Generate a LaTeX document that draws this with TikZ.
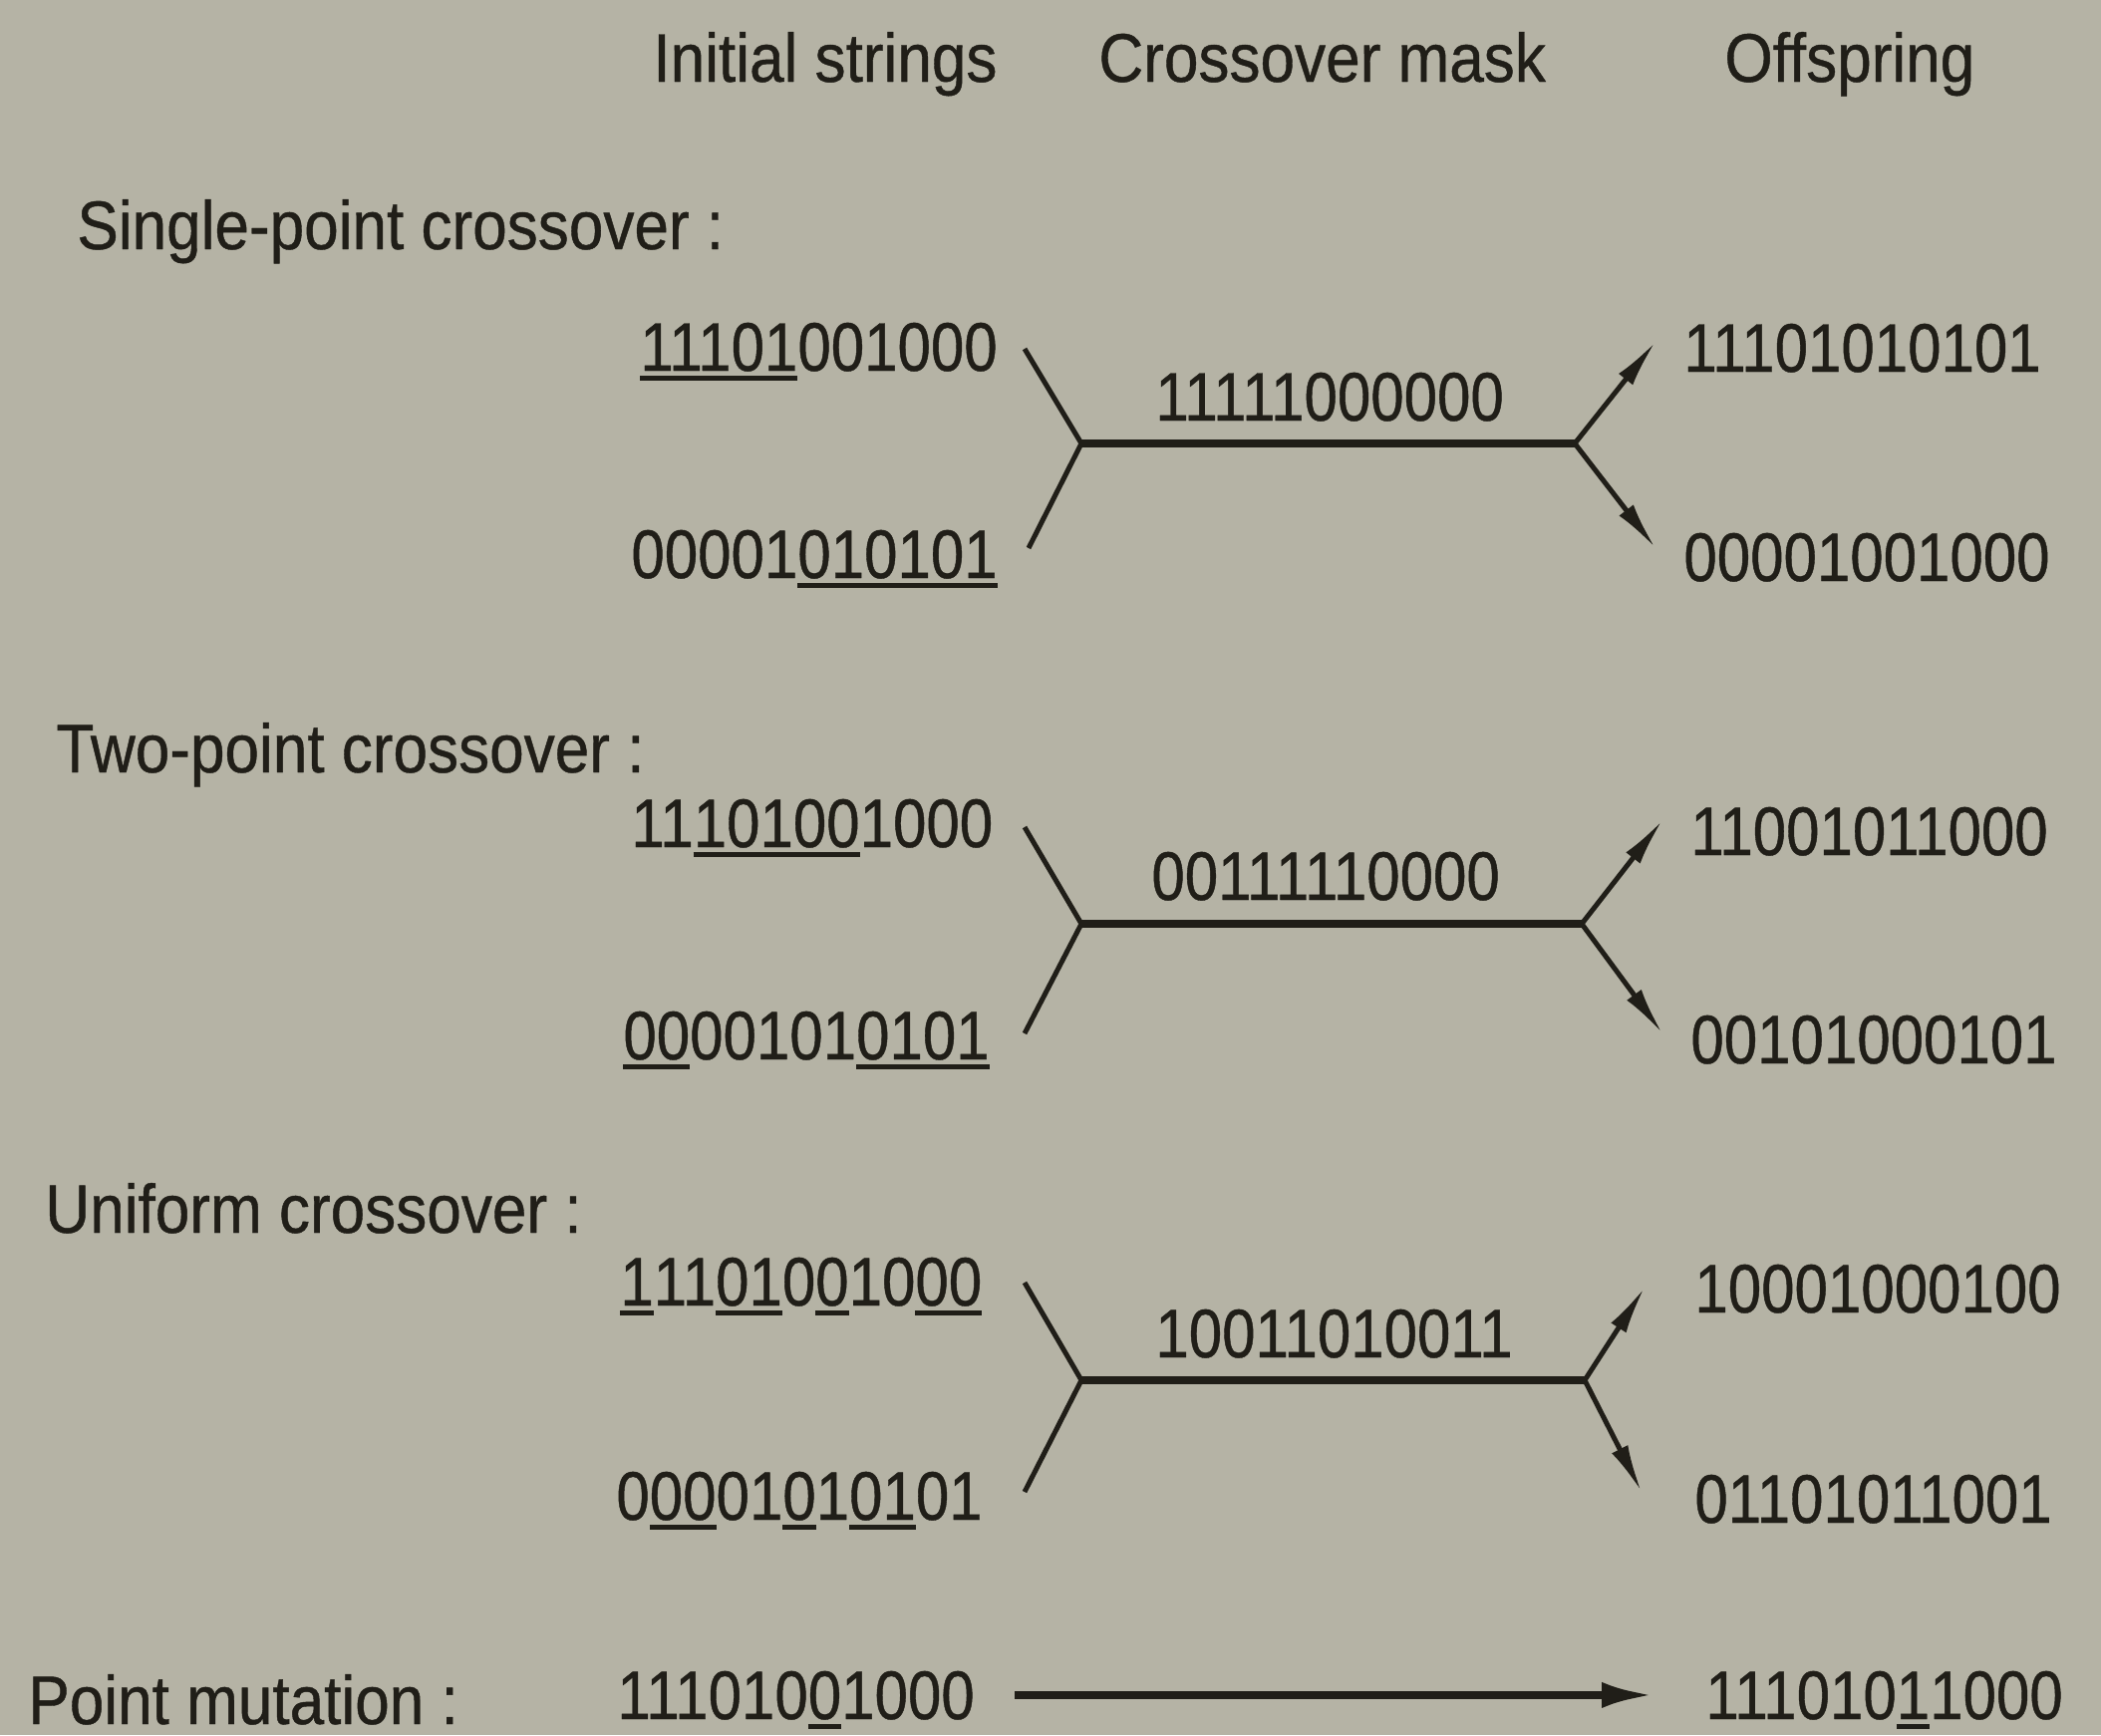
\documentclass[tikz,border=0pt]{standalone}
\usepackage{fontspec}
\setmainfont[FakeStretch=0.9,FakeBold=0.6]{Liberation Sans}
\newfontfamily\digitfont[FakeStretch=0.87,FakeBold=0.6]{Liberation Sans}
\usetikzlibrary{arrows.meta}
\definecolor{paper}{RGB}{181,179,165}
\definecolor{ink}{RGB}{32,30,24}
\newsavebox\ulbox
\newcommand\ud[1]{\sbox\ulbox{#1}\rlap{\rule[-5pt]{\wd\ulbox}{2.6pt}}\usebox\ulbox}
\begin{document}
\begin{tikzpicture}[x=0.5pt,y=-0.5pt,
  txt/.style={anchor=base west, inner sep=0pt, text=ink, font=\fontsize{34.5}{40}\selectfont},
  bits/.style={anchor=base west, inner sep=0pt, text=ink, text depth=0pt, font=\digitfont\fontsize{34.5}{40}\selectfont},
  bar/.style={draw=ink, line width=4pt},
  branch/.style={draw=ink, line width=2.5pt, line join=miter},
  tip/.style={draw=ink, line width=2.5pt, -{Latex[length=24pt,width=9pt]}},
  mutarrow/.style={draw=ink, line width=4pt, -{Latex[length=26pt,width=13pt]}}]
\fill[paper] (0,0) rectangle (2108,1741);
\useasboundingbox (0,0) rectangle (2108,1741);

% headers
\node[txt] (h1) at (655,82) {Initial strings};
\node[txt] (h2) at (1102,82) {Crossover mask};
\node[txt] (h3) at (1730,82) {Offspring};

% single-point
\node[txt] (l1) at (77,250) {Single-point crossover :};
\node[bits] (a1) at (642,372) {\ud{11101}001000};
\node[bits] (b1) at (633,580) {00001\ud{010101}};
\node[bits] (m1) at (1159,422) {11111000000};
\node[bits] (o1) at (1689,373) {11101010101};
\node[bits] (p1) at (1689,583) {00001001000};
\coordinate (la1) at (1028,350);
\coordinate (ja1) at (1085,445);
\coordinate (lb1) at (1032,550);
\coordinate (jb1) at (1580,445);
\coordinate (ta1) at (1661,343);
\coordinate (tb1) at (1661,550);
\draw[branch] (la1) -- (ja1) -- (lb1);
\draw[bar] (ja1) -- (jb1);
\draw[tip] (jb1) -- (ta1);
\draw[tip] (jb1) -- (tb1);

% two-point
\node[txt] (l2) at (56,775) {Two-point crossover :};
\node[bits] (a2) at (633,850) {11\ud{10100}1000};
\node[bits] (b2) at (625,1063) {\ud{00}00101\ud{0101}};
\node[bits] (m2) at (1155,903) {00111110000};
\node[bits] (o2) at (1696,858) {11001011000};
\node[bits] (p2) at (1696,1067) {00101000101};
\coordinate (la2) at (1028,830);
\coordinate (ja2) at (1085,927);
\coordinate (lb2) at (1028,1037);
\coordinate (jb2) at (1587,927);
\coordinate (ta2) at (1668,823);
\coordinate (tb2) at (1668,1037);
\draw[branch] (la2) -- (ja2) -- (lb2);
\draw[bar] (ja2) -- (jb2);
\draw[tip] (jb2) -- (ta2);
\draw[tip] (jb2) -- (tb2);

% uniform
\node[txt] (l3) at (45,1237) {Uniform crossover :};
\node[bits] (a3) at (622,1310) {\ud{1}11\ud{01}0\ud{0}10\ud{00}};
\node[bits] (b3) at (618,1525) {0\ud{00}01\ud{0}1\ud{01}01};
\node[bits] (m3) at (1159,1362) {10011010011};
\node[bits] (o3) at (1700,1317) {10001000100};
\node[bits] (p3) at (1700,1528) {01101011001};
\coordinate (la3) at (1028,1287);
\coordinate (ja3) at (1085,1385);
\coordinate (lb3) at (1028,1497);
\coordinate (jb3) at (1590,1385);
\coordinate (ta3) at (1650,1292);
\coordinate (tb3) at (1647,1497);
\draw[branch] (la3) -- (ja3) -- (lb3);
\draw[bar] (ja3) -- (jb3);
\draw[tip] (jb3) -- (ta3);
\draw[tip] (jb3) -- (tb3);

% point mutation
\node[txt] (l4) at (28,1730) {Point mutation :};
\node[bits] (a4) at (619,1725) {111010\ud{0}1000};
\node[bits] (o4) at (1711,1725) {111010\ud{1}1000};
\draw[mutarrow] ([xshift=20pt]a4.east) -- ([xshift=-26pt]o4.west);
\end{tikzpicture}
\end{document}
